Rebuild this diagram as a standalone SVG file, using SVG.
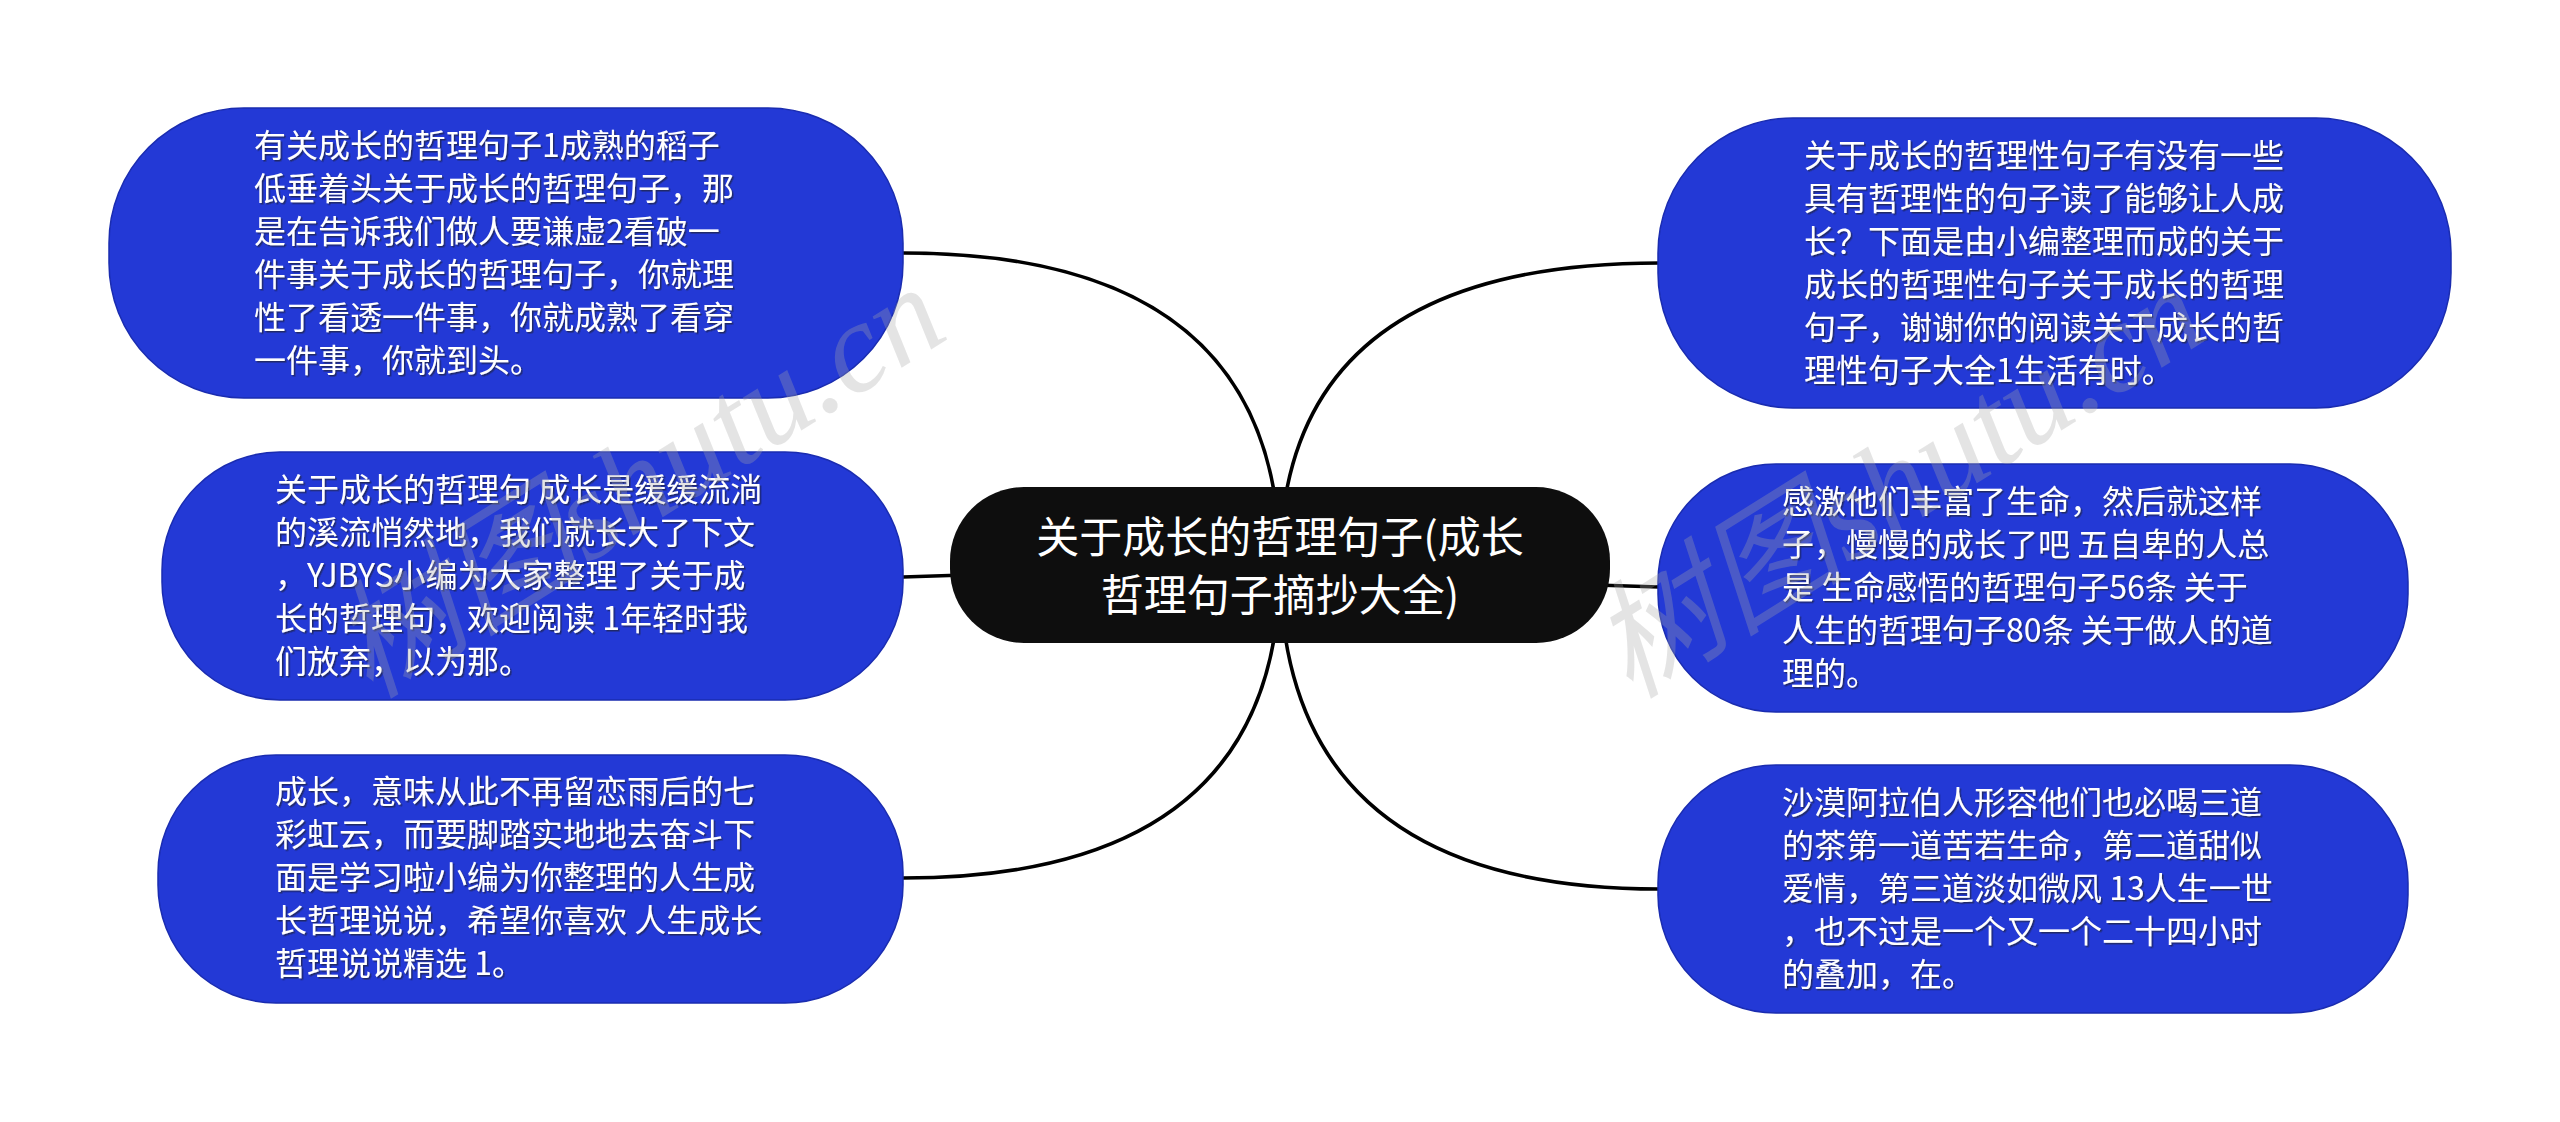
<svg xmlns="http://www.w3.org/2000/svg" width="2560" height="1122" viewBox="0 0 2560 1122">
<defs>
<style>
.conn{fill:none;stroke:#000;stroke-width:3.5}
.sub{fill:#2339D6;stroke:#1a2cb0;stroke-width:1.5}
.root{fill:#0e0e0e}
.t{font-family:"Noto Sans CJK SC","Noto Sans",sans-serif;font-size:32px;fill:#fff;filter:url(#sh)}
.rt{font-family:"Noto Sans CJK SC","Noto Sans",sans-serif;font-size:43px;fill:#fff;text-anchor:middle}
.wm{font-family:"Liberation Serif","Noto Sans CJK SC",serif;font-style:italic;font-size:128px;fill:#a8a8a8;opacity:0.3}
</style>
<filter id="sh" x="-5%" y="-20%" width="110%" height="140%">
<feDropShadow dx="1.5" dy="1.5" stdDeviation="0.6" flood-color="#222" flood-opacity="0.6"/>
</filter>
</defs>
<rect width="2560" height="1122" fill="#fff"/>
<g id="connectors">
<path class="conn" d="M1280 565 Q1280 253 903 253"/>
<path class="conn" d="M1280 565 L903 577"/>
<path class="conn" d="M1280 565 Q1280 878 903 878"/>
<path class="conn" d="M1280 565 Q1280 263 1659 263"/>
<path class="conn" d="M1280 575 L1659 587"/>
<path class="conn" d="M1280 565 Q1280 889 1659 889"/>
</g>
<g id="node-l1">
<rect class="sub" x="109" y="108" width="794" height="290" rx="135" ry="135"/>
<text class="t" x="254"><tspan x="254" y="157">有关成长的哲理句子1成熟的稻子</tspan><tspan x="254" y="200">低垂着头关于成长的哲理句子，那</tspan><tspan x="254" y="243">是在告诉我们做人要谦虚2看破一</tspan><tspan x="254" y="286">件事关于成长的哲理句子，你就理</tspan><tspan x="254" y="329">性了看透一件事，你就成熟了看穿</tspan><tspan x="254" y="372">一件事，你就到头。</tspan></text>
</g>
<g id="node-l2">
<rect class="sub" x="162" y="452" width="741" height="248" rx="118" ry="118"/>
<text class="t"><tspan x="275" y="501">关于成长的哲理句 成长是缓缓流淌</tspan><tspan x="275" y="544">的溪流悄然地，我们就长大了下文</tspan><tspan x="275" y="587">，YJBYS小编为大家整理了关于成</tspan><tspan x="275" y="630">长的哲理句，欢迎阅读 1年轻时我</tspan><tspan x="275" y="673">们放弃，以为那。</tspan></text>
</g>
<g id="node-l3">
<rect class="sub" x="158" y="755" width="745" height="248" rx="118" ry="118"/>
<text class="t"><tspan x="275" y="803">成长，意味从此不再留恋雨后的七</tspan><tspan x="275" y="846">彩虹云，而要脚踏实地地去奋斗下</tspan><tspan x="275" y="889">面是学习啦小编为你整理的人生成</tspan><tspan x="275" y="932">长哲理说说，希望你喜欢 人生成长</tspan><tspan x="275" y="975">哲理说说精选 1。</tspan></text>
</g>
<g id="node-r1">
<rect class="sub" x="1658" y="118" width="793" height="290" rx="135" ry="135"/>
<text class="t"><tspan x="1804" y="167">关于成长的哲理性句子有没有一些</tspan><tspan x="1804" y="210">具有哲理性的句子读了能够让人成</tspan><tspan x="1804" y="253">长？下面是由小编整理而成的关于</tspan><tspan x="1804" y="296">成长的哲理性句子关于成长的哲理</tspan><tspan x="1804" y="339">句子，谢谢你的阅读关于成长的哲</tspan><tspan x="1804" y="382">理性句子大全1生活有时。</tspan></text>
</g>
<g id="node-r2">
<rect class="sub" x="1658" y="464" width="750" height="248" rx="118" ry="118"/>
<text class="t"><tspan x="1782" y="513">感激他们丰富了生命，然后就这样</tspan><tspan x="1782" y="556">子，慢慢的成长了吧 五自卑的人总</tspan><tspan x="1782" y="599">是 生命感悟的哲理句子56条 关于</tspan><tspan x="1782" y="642">人生的哲理句子80条 关于做人的道</tspan><tspan x="1782" y="685">理的。</tspan></text>
</g>
<g id="node-r3">
<rect class="sub" x="1658" y="765" width="750" height="248" rx="118" ry="118"/>
<text class="t"><tspan x="1782" y="814">沙漠阿拉伯人形容他们也必喝三道</tspan><tspan x="1782" y="857">的茶第一道苦若生命，第二道甜似</tspan><tspan x="1782" y="900">爱情，第三道淡如微风 13人生一世</tspan><tspan x="1782" y="943">，也不过是一个又一个二十四小时</tspan><tspan x="1782" y="986">的叠加，在。</tspan></text>
</g>
<g id="node-root">
<rect class="root" x="950" y="487" width="660" height="156" rx="74" ry="74"/>
<text class="rt"><tspan x="1280" y="553">关于成长的哲理句子(成长</tspan><tspan x="1280" y="611">哲理句子摘抄大全)</tspan></text>
</g>
<g id="watermark">
<text class="wm" transform="translate(370 700) rotate(-32)">树图shutu.cn</text>
<text class="wm" transform="translate(1630 700) rotate(-32)">树图shutu.cn</text>
</g>
</svg>
